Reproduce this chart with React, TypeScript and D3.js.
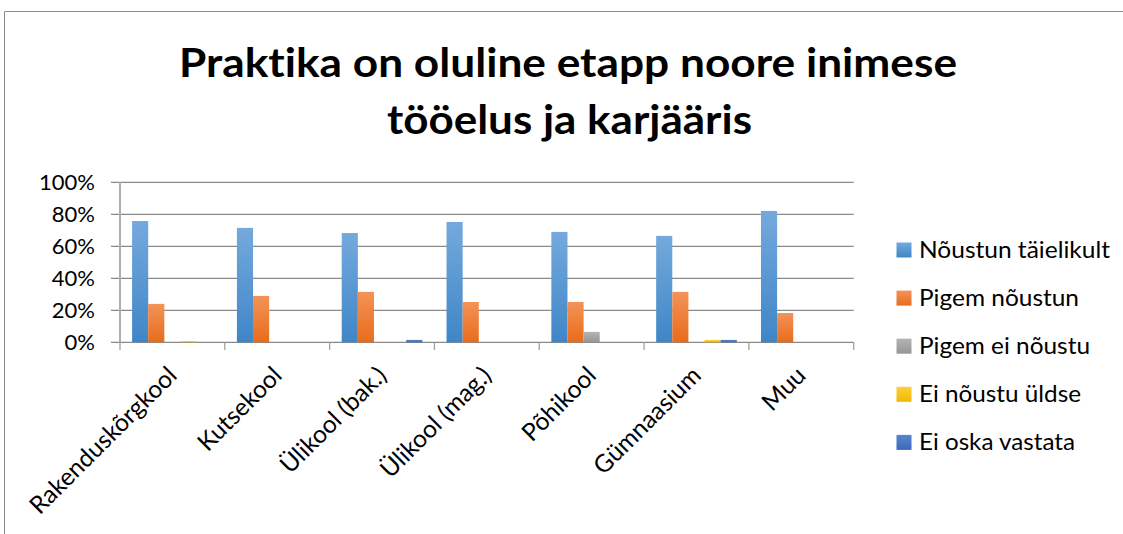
import React from "react";
import * as d3 from "d3";

const categories = [
  "Rakenduskõrgkool",
  "Kutsekool",
  "Ülikool (bak.)",
  "Ülikool (mag.)",
  "Põhikool",
  "Gümnaasium",
  "Muu",
];
const seriesNames = [
  "Nõustun täielikult",
  "Pigem nõustun",
  "Pigem ei nõustu",
  "Ei nõustu üldse",
  "Ei oska vastata",
];
const noustunTaielikult = [0.758, 0.715, 0.683, 0.752, 0.69, 0.665, 0.821];
const pigemNoustun = [0.24, 0.29, 0.315, 0.252, 0.252, 0.315, 0.183];
const pigemEiNoustu = [0, 0, 0, 0, 0.065, 0, 0];
const eiNoustuYldse = [0.008, 0, 0, 0, 0, 0.015, 0];
const eiOskaVastata = [0, 0, 0.015, 0, 0, 0.015, 0];
const yTicks = [0, 0.2, 0.4, 0.6, 0.8, 1.0];
const titleLines = ["Praktika on oluline etapp noore inimese", "tööelus ja karjääris"];

const seriesValues = [noustunTaielikult, pigemNoustun, pigemEiNoustu, eiNoustuYldse, eiOskaVastata];
const gradients = [
  ["#75a9dd", "#3f86c7"],
  ["#f39358", "#e86c1a"],
  ["#b4b4b4", "#959595"],
  ["#ffcf3a", "#f2b800"],
  ["#5a84cf", "#3a68b8"],
];
const legendWidths = [191, 160, 171, 162, 156];

export default function App() {
  const W = 1123;
  const H = 534;
  const plotLeft = 120;
  const plotRight = 853.7;
  const y0 = 342.3;
  const y100 = 182.3;

  const x0 = d3.scaleBand<string>().domain(categories).range([plotLeft, plotRight]).padding(0);
  const x1 = d3
    .scaleBand<string>()
    .domain(seriesNames)
    .range([0, x0.bandwidth()])
    .paddingInner(0)
    .paddingOuter(0.75);
  const y = d3.scaleLinear().domain([0, 1]).range([y0, y100]);
  const fmt = d3.format(".0%");

  const font = "Lato, 'Open Sans', sans-serif";

  return (
    <svg
      width={W}
      height={H}
      style={{ position: "absolute", left: 0, top: 0, background: "#fff", fontVariantLigatures: "none" }}
      fontFamily={font}
    >
      <defs>
        {gradients.map((g, i) => (
          <linearGradient key={i} id={`grad${i}`} x1="0" y1="0" x2="0" y2="1">
            <stop offset="0%" stopColor={g[0]} />
            <stop offset="100%" stopColor={g[1]} />
          </linearGradient>
        ))}
      </defs>
      <rect x={0} y={0} width={W} height={H} fill="#fff" />
      {/* frame */}
      <line x1={4.5} y1={11.5} x2={W} y2={11.5} stroke="#8c8c8c" strokeWidth={1} />
      <line x1={4.5} y1={11.5} x2={4.5} y2={H} stroke="#8c8c8c" strokeWidth={1} />

      {/* title */}
      <text x={568} y={77} textAnchor="middle" fontWeight="bold" fontSize={41} fill="#000" textLength={778} lengthAdjust="spacingAndGlyphs">
        {titleLines[0]}
      </text>
      <text x={569.5} y={134} textAnchor="middle" fontWeight="bold" fontSize={41} fill="#000" textLength={365} lengthAdjust="spacingAndGlyphs">
        {titleLines[1]}
      </text>

      {/* gridlines + y ticks */}
      {yTicks.map((t) => (
        <g key={t}>
          <line x1={111} x2={plotRight} y1={y(t)} y2={y(t)} stroke="#8a8a8a" strokeWidth={1.3} />
          <text x={95} y={y(t) + 7.5} textAnchor="end" fontSize={22} fill="#000">
            {fmt(t)}
          </text>
        </g>
      ))}

      {/* y axis line */}
      <line x1={plotLeft} x2={plotLeft} y1={y100} y2={y0} stroke="#b0b0b0" strokeWidth={2} />

      {/* category ticks */}
      {categories.concat(["__end"]).map((c, i) => {
        const xx = i < categories.length ? (x0(c) as number) : plotRight;
        return <line key={c} x1={xx} x2={xx} y1={y0} y2={350} stroke="#a0a0a0" strokeWidth={1.3} />;
      })}

      {/* bars */}
      {categories.map((c, ci) =>
        seriesValues.map((vals, si) => {
          const v = vals[ci];
          if (!v) return null;
          const bx = (x0(c) as number) + (x1(seriesNames[si]) as number);
          return (
            <rect
              key={`${ci}-${si}`}
              x={bx}
              y={y(v)}
              width={x1.bandwidth()}
              height={y0 - y(v)}
              fill={`url(#grad${si})`}
            />
          );
        })
      )}

      {/* category labels */}
      {categories.map((c) => {
        const cx = (x0(c) as number) + x0.bandwidth() / 2 + 6;
        const cy = 377;
        return (
          <text
            key={c}
            x={cx}
            y={cy}
            textAnchor="end"
            fontSize={24.5}
            fill="#000"
            transform={`rotate(-45 ${cx} ${cy})`}
          >
            {c}
          </text>
        );
      })}

      {/* legend */}
      {seriesNames.map((s, i) => {
        const ly = 250 + i * 48.1;
        return (
          <g key={s}>
            <rect x={896.5} y={ly - 7.5} width={15} height={15} fill={`url(#grad${i})`} />
            <text x={919} y={ly + 7.8} fontSize={23} fill="#000" textLength={legendWidths[i]} lengthAdjust="spacingAndGlyphs">
              {s}
            </text>
          </g>
        );
      })}
    </svg>
  );
}
